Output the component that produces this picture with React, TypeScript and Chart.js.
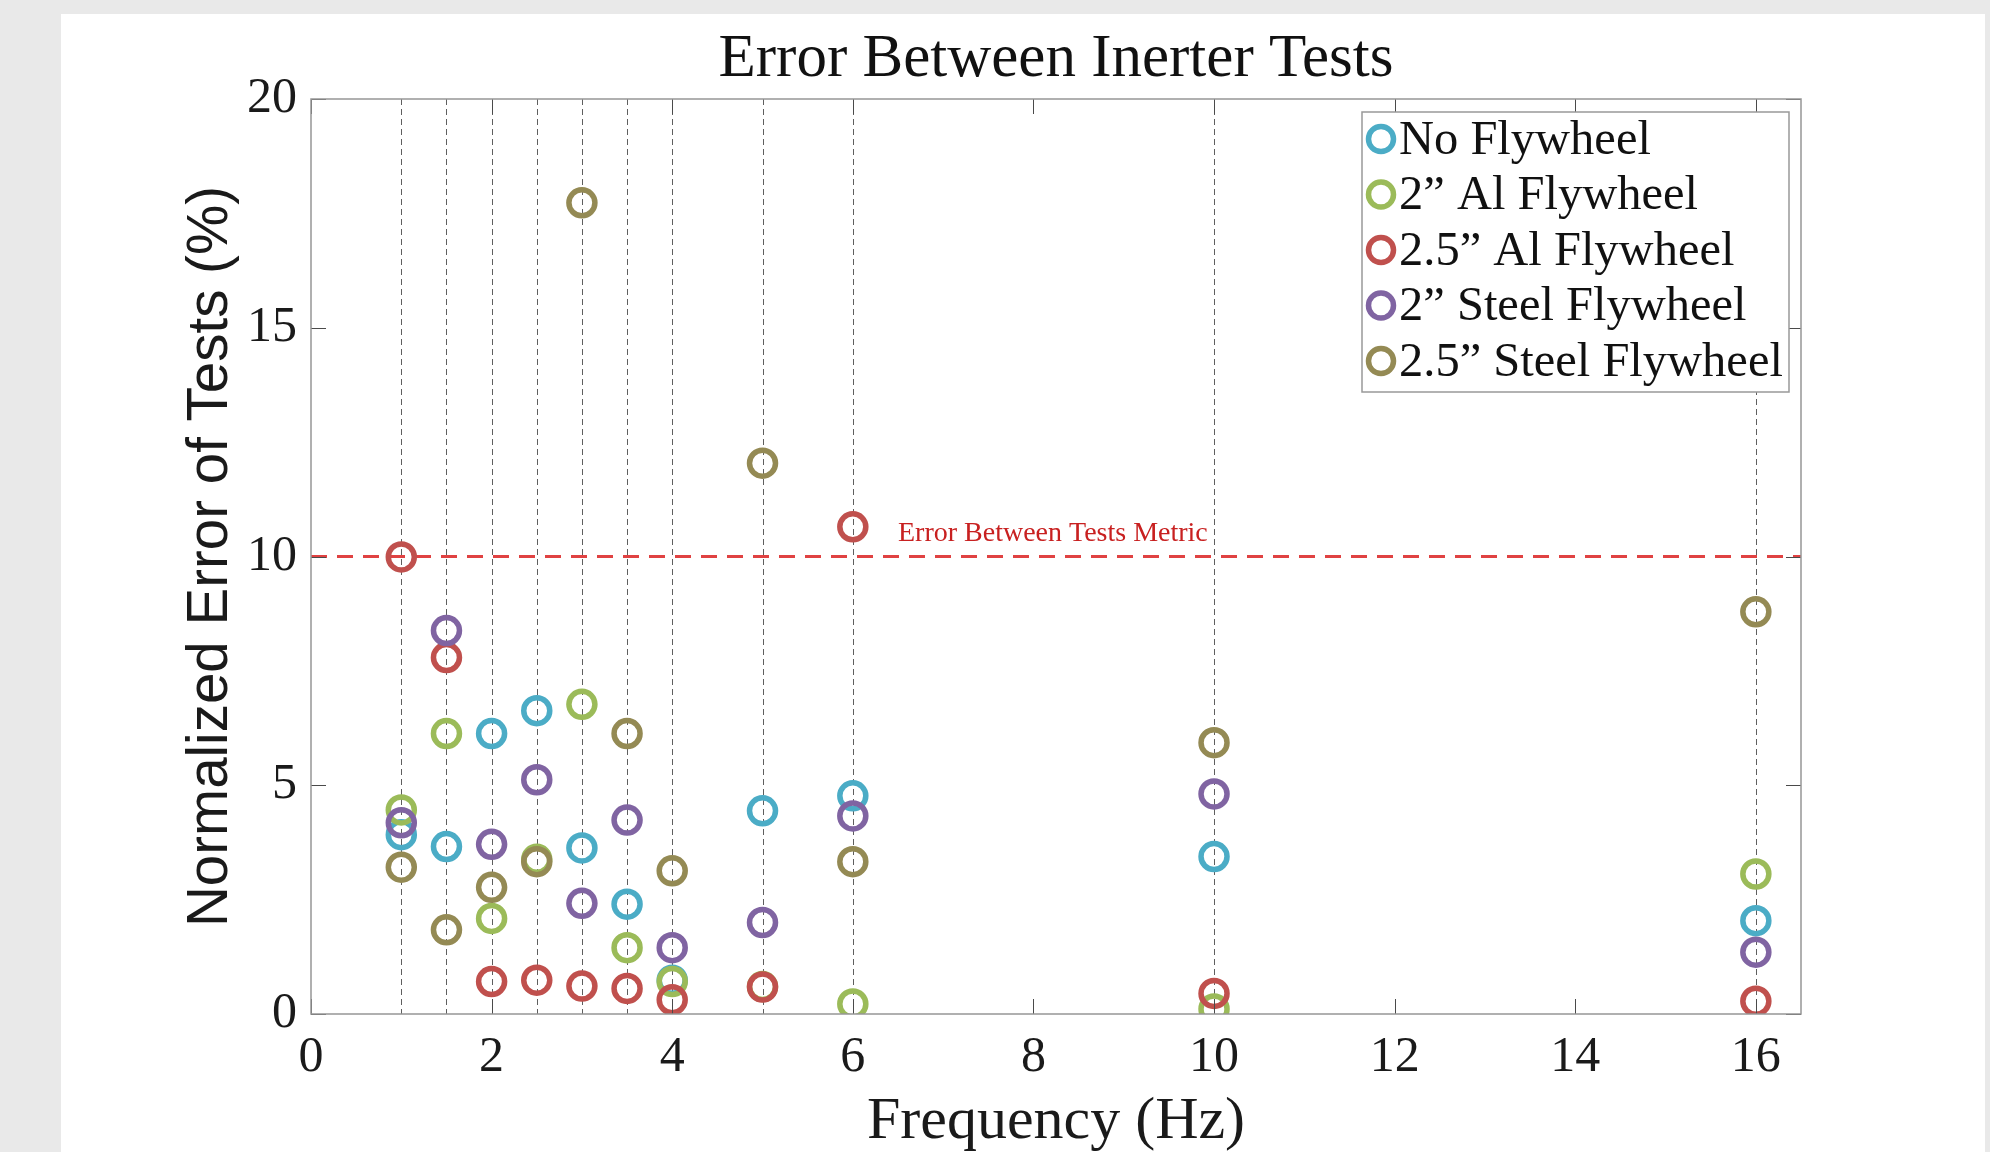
import React, { useEffect, useRef } from 'react';
import { Chart, registerables } from 'chart.js';

Chart.register(...registerables);

// ---------- data ----------
const frequencies = [1, 1.5, 2, 2.5, 3, 3.5, 4, 5, 6, 10, 16];
const seriesLabels = [
  'No Flywheel',
  '2\u201D Al Flywheel',
  '2.5\u201D Al Flywheel',
  '2\u201D Steel Flywheel',
  '2.5\u201D Steel Flywheel',
];
const noFlywheel = [3.92, 3.66, 6.13, 6.63, 3.63, 2.4, 0.74, 4.44, 4.77, 3.44, 2.04];
const al2 = [4.46, 6.13, 2.09, 3.38, 6.77, 1.45, 0.71, 0.6, 0.22, 0.11, 3.06];
const al25 = [9.99, 7.79, 0.71, 0.74, 0.61, 0.56, 0.31, 0.59, 10.65, 0.45, 0.28];
const steel2 = [4.18, 8.38, 3.71, 5.12, 2.42, 4.24, 1.45, 2.0, 4.33, 4.81, 1.35];
const steel25 = [3.21, 1.84, 2.77, 3.33, 17.73, 6.13, 3.13, 12.04, 3.33, 5.93, 8.79];
const xTicks = [0, 2, 4, 6, 8, 10, 12, 14, 16];
const yTicks = [0, 5, 10, 15, 20];
const metricValue = 10;
const metricLabel = 'Error Between Tests Metric';
const chartTitle = 'Error Between Inerter Tests';
const xTitle = 'Frequency (Hz)';
const yTitle = 'Normalized Error of Tests (%)';

// ---------- styles ----------
const seriesColors = ['#4bacc6', '#9bbb59', '#c0504d', '#8064a2', '#948a54'];
const SERIF = '"Liberation Serif", "Times New Roman", serif';
const SANS = '"Liberation Sans", Arial, sans-serif';
const metricLabelX = 6.5;
const metricLabelY = 10.5;

const extras = {
  id: 'extras',
  beforeDatasetsDraw(chart: any) {
    const { ctx, chartArea: a, scales } = chart;
    const x = scales.x;
    const y = scales.y;
    ctx.save();
    ctx.beginPath();
    ctx.rect(a.left, a.top, a.right - a.left, a.bottom - a.top);
    ctx.clip();
    ctx.strokeStyle = '#5e5e5e';
    ctx.lineWidth = 1;
    ctx.setLineDash([6, 4]);
    for (const f of frequencies) {
      const px = Math.round(x.getPixelForValue(f)) + 0.5;
      ctx.beginPath();
      ctx.moveTo(px, a.top);
      ctx.lineTo(px, a.bottom);
      ctx.stroke();
    }
    ctx.strokeStyle = 'rgb(224,66,66)';
    ctx.lineWidth = 3;
    ctx.setLineDash([16, 10]);
    const py = y.getPixelForValue(metricValue);
    ctx.beginPath();
    ctx.moveTo(a.left, py);
    ctx.lineTo(a.right, py);
    ctx.stroke();
    ctx.restore();

    ctx.save();
    ctx.fillStyle = 'rgb(200,32,32)';
    ctx.font = `28px ${SERIF}`;
    ctx.textBaseline = 'middle';
    ctx.textAlign = 'left';
    ctx.fillText(metricLabel, x.getPixelForValue(metricLabelX), y.getPixelForValue(metricLabelY));
    ctx.restore();
  },
  afterDatasetsDraw(chart: any) {
    const { ctx, chartArea: a, scales } = chart;
    const x = scales.x;
    const y = scales.y;
    ctx.save();
    ctx.setLineDash([]);
    ctx.strokeStyle = '#4a4a4a';
    ctx.lineWidth = 1;
    const tl = 15;
    for (const v of xTicks) {
      const px = Math.round(x.getPixelForValue(v)) + 0.5;
      ctx.beginPath();
      ctx.moveTo(px, a.bottom);
      ctx.lineTo(px, a.bottom - tl);
      ctx.moveTo(px, a.top);
      ctx.lineTo(px, a.top + tl);
      ctx.stroke();
    }
    for (const v of yTicks) {
      const py = Math.round(y.getPixelForValue(v)) + 0.5;
      ctx.beginPath();
      ctx.moveTo(a.left, py);
      ctx.lineTo(a.left + tl, py);
      ctx.moveTo(a.right, py);
      ctx.lineTo(a.right - tl, py);
      ctx.stroke();
    }
    ctx.strokeStyle = '#969696';
    ctx.lineWidth = 1.5;
    ctx.strokeRect(a.left, a.top, a.right - a.left, a.bottom - a.top);
    ctx.restore();
  },
  afterDraw(chart: any) {
    const { ctx, chartArea: a } = chart;
    ctx.save();
    // title
    ctx.fillStyle = '#111';
    ctx.font = `61px ${SERIF}`;
    ctx.textAlign = 'center';
    ctx.textBaseline = 'middle';
    ctx.fillText(chartTitle, (a.left + a.right) / 2, 46);

    // legend
    const w = 427;
    const h = 280;
    const lx = a.right - 12 - w;
    const ly = a.top + 13;
    ctx.fillStyle = '#fff';
    ctx.fillRect(lx, ly, w, h);
    ctx.strokeStyle = '#999';
    ctx.lineWidth = 1.5;
    ctx.strokeRect(lx, ly, w, h);
    const ds = chart.data.datasets;
    ctx.font = `48.5px ${SERIF}`;
    ctx.textAlign = 'left';
    ctx.textBaseline = 'middle';
    for (let i = 0; i < ds.length; i++) {
      const cy = ly + 27 + i * 55.5;
      ctx.beginPath();
      ctx.strokeStyle = ds[i].borderColor;
      ctx.lineWidth = 5.5;
      ctx.arc(lx + 19, cy, 12.5, 0, Math.PI * 2);
      ctx.stroke();
      ctx.fillStyle = '#111';
      ctx.fillText(ds[i].label, lx + 37, cy + 2);
    }
    ctx.restore();
  },
};

export default function App() {
  const ref = useRef<HTMLCanvasElement>(null);
  useEffect(() => {
    const series = [noFlywheel, al2, al25, steel2, steel25];
    const chart = new Chart(ref.current as HTMLCanvasElement, {
      type: 'scatter',
      data: {
        datasets: series.map((vals, i) => ({
          label: seriesLabels[i],
          data: frequencies.map((f, j) => ({ x: f, y: vals[j] })),
          borderColor: seriesColors[i],
          backgroundColor: 'rgba(0,0,0,0)',
          pointRadius: 13,
          pointHoverRadius: 13,
          borderWidth: 5.5,
          pointBorderWidth: 5.5,
          showLine: false,
          clip: 0,
          order: series.length - i,
        })),
      },
      options: {
        animation: false,
        responsive: false,
        devicePixelRatio: 1,
        events: [],
        layout: { padding: { top: 85, right: 184, left: 0, bottom: 0 } },
        plugins: {
          legend: { display: false },
          title: { display: false },
          tooltip: { enabled: false },
        },
        scales: {
          x: {
            type: 'linear',
            min: 0,
            max: 16.5,
            afterBuildTicks: (s: any) => {
              s.ticks = xTicks.map((v) => ({ value: v }));
            },
            afterFit: (s: any) => {
              s.height = 138;
            },
            grid: { display: false, drawTicks: false },
            border: { display: false },
            ticks: {
              autoSkip: false,
              maxRotation: 0,
              padding: 14,
              color: '#1a1a1a',
              font: { family: SERIF, size: 50 },
            },
            title: {
              display: true,
              text: xTitle,
              color: '#1a1a1a',
              font: { family: SERIF, size: 60 },
              padding: { top: 0, bottom: -6 },
            },
          },
          y: {
            type: 'linear',
            min: 0,
            max: 20,
            afterBuildTicks: (s: any) => {
              s.ticks = yTicks.map((v) => ({ value: v }));
            },
            afterFit: (s: any) => {
              s.width = 250;
            },
            grid: { display: false, drawTicks: false },
            border: { display: false },
            ticks: {
              padding: 14,
              color: '#1a1a1a',
              font: { family: SERIF, size: 50 },
            },
            title: {
              display: true,
              text: yTitle,
              color: '#1a1a1a',
              font: { family: SANS, size: 56.5 },
              padding: { top: 117, bottom: 0 },
            },
          },
        },
      },
      plugins: [extras],
    } as any);
    return () => chart.destroy();
  }, []);

  return (
    <div
      style={{
        position: 'fixed',
        left: 0,
        top: 0,
        width: 1990,
        height: 1152,
        background: '#e9e9e9',
        overflow: 'hidden',
      }}
    >
      <div
        style={{
          position: 'absolute',
          left: 61,
          top: 14,
          width: 1924,
          height: 1138,
          background: '#ffffff',
        }}
      >
        <canvas
          ref={ref}
          width={1924}
          height={1138}
          style={{ display: 'block', width: 1924, height: 1138 }}
        />
      </div>
    </div>
  );
}
